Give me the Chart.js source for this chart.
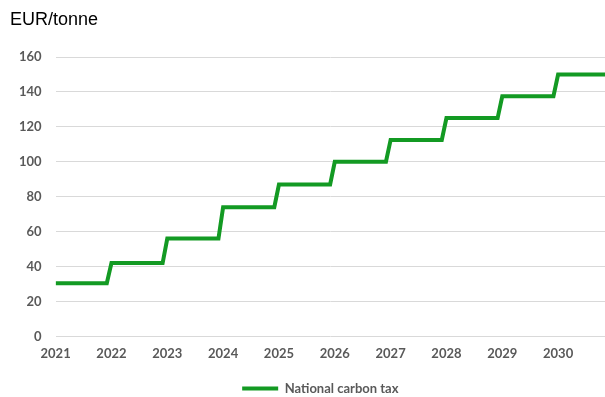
<!DOCTYPE html>
<html>
<head>
<meta charset="utf-8">
<script src="https://cdn.jsdelivr.net/npm/chart.js@4.4.0/dist/chart.umd.min.js"></script>
<style>
  html, body { margin: 0; padding: 0; background: #fff; }
  #wrap { width: 605px; height: 397px; position: relative; }
</style>
</head>
<body>
<div id="wrap"><canvas id="chart"></canvas></div>
<script>
// yearly tax level, held flat through each year (Jan..Dec)
var years = [2021, 2022, 2023, 2024, 2025, 2026, 2027, 2028, 2029, 2030];
var taxValues = [30.5, 42, 56, 74, 87, 100, 112.5, 125, 137.5, 150];
var seriesLabel = 'National carbon tax';
var unitLabel = 'EUR/tonne';

var tickGrey = '#595959';
var green = '#139a23';

// one point at January and one at December of every year
var points = [];
years.forEach(function(yr, i){
  points.push({x: yr, y: taxValues[i]});
  points.push({x: yr + 11 / 12, y: taxValues[i]});
});

// unit label in the top left corner, and nudge the legend like the original
var unitTitle = {
  id: 'unitTitle',
  afterLayout: function(chart){
    var lg = chart.legend;
    lg.left -= 10; lg.right -= 10;
    lg.top += 8; lg.bottom += 8;
  },
  afterDraw: function(chart){
    var c = chart.ctx;
    c.save();
    c.fillStyle = '#000';
    c.font = '18px "Liberation Sans"';
    c.textBaseline = 'middle';
    c.fillText(unitLabel, 10, 20);
    c.restore();
  }
};

var ctx = document.getElementById('chart').getContext('2d');
new Chart(ctx, {
  type: 'line',
  data: {
    datasets: [{
      label: seriesLabel,
      data: points,
      borderColor: green,
      backgroundColor: green,
      borderWidth: 4,
      pointRadius: 0,
      tension: 0,
      pointStyle: 'line'
    }]
  },
  options: {
    responsive: true,
    maintainAspectRatio: false,
    animation: false,
    layout: { padding: { left: 5, right: 0, top: 57, bottom: 0 } },
    plugins: {
      legend: {
        position: 'bottom',
        fullSize: false,
        labels: {
          usePointStyle: true,
          pointStyleWidth: 36,
          color: tickGrey,
          font: { family: 'Lato', size: 13, weight: 'bold' },
          padding: 10
        }
      },
      tooltip: { enabled: false }
    },
    scales: {
      x: {
        type: 'linear',
        min: 2021,
        max: 2030.84,
        grid: { display: false },
        border: { display: false },
        afterBuildTicks: function(axis){
          axis.ticks = years.map(function(yr){ return {value: yr}; });
        },
        ticks: {
          autoSkip: false,
          maxRotation: 0,
          padding: 2,
          color: tickGrey,
          font: { family: 'Lato', size: 13, weight: 'bold' },
          callback: function(v){ return String(v); }
        }
      },
      y: {
        min: 0,
        max: 160,
        grid: { color: '#d9d9d9', lineWidth: 1, drawTicks: false },
        border: { display: false },
        ticks: {
          stepSize: 20,
          padding: 14,
          color: tickGrey,
          font: { family: 'Lato', size: 13, weight: 'bold' }
        }
      }
    }
  },
  plugins: [unitTitle]
});
</script>
</body>
</html>
